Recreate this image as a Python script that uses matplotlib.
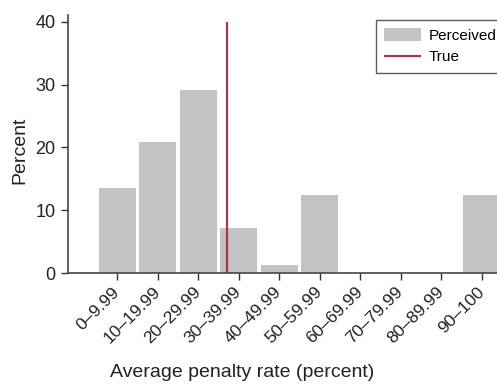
import matplotlib.pyplot as plt

plt.rcParams['font.family'] = ['Liberation Sans', 'DejaVu Sans']

# Data
bins = ["0–9.99", "10–19.99", "20–29.99", "30–39.99", "40–49.99",
        "50–59.99", "60–69.99", "70–79.99", "80–89.99", "90–100"]
bin_centers = [5, 15, 25, 35, 45, 55, 65, 75, 85, 95]
perceived = [13.5, 20.9, 29.2, 7.2, 1.3, 12.4, 0, 0, 0, 12.4]
true_rate = 32.2

fig = plt.figure(figsize=(4.97, 3.9), dpi=100)
ax = fig.add_axes([0.137, 0.30, 0.863, 0.662])

bars = ax.bar(bin_centers, perceived, width=9.1, color="#c3c3c3", label="Perceived", zorder=1)
line = ax.vlines(true_rate, 0, 40, color="#a83848", linewidth=1.6, label="True", zorder=2)

ax.set_xlim(-7.1, 98.8)
ax.set_ylim(0, 41.1)
ax.set_yticks([0, 10, 20, 30, 40])
ax.set_xticks(bin_centers)
ax.set_xticklabels(bins, rotation=45, ha="right", va="center", rotation_mode="anchor", fontsize=12.5)
ax.tick_params(axis="y", labelsize=13, length=5, width=1, pad=4, color="#333333", labelcolor="#222222")
ax.tick_params(axis="x", length=5, width=1, pad=7, color="#333333", labelcolor="#222222")

for s in ["top", "right"]:
    ax.spines[s].set_visible(False)
for s in ["left", "bottom"]:
    ax.spines[s].set_color("#444444")
    ax.spines[s].set_linewidth(1.2)

ax.set_ylabel("Percent", fontsize=14, color="#222222")
ax.yaxis.set_label_coords(-0.093, 0.477)
ax.set_xlabel("Average penalty rate (percent)", fontsize=14, color="#222222")
ax.xaxis.set_label_coords(0.406, -0.353)

leg = ax.legend([bars, line], ["Perceived", "True"],
                loc="upper left", bbox_to_anchor=(0.718, 0.98), fontsize=11,
                frameon=True, fancybox=False, edgecolor="#333333",
                handlelength=2.4, handleheight=0.9, borderpad=0.55,
                borderaxespad=0, handletextpad=0.5, labelspacing=0.45)
leg.get_frame().set_linewidth(1.0)

plt.savefig("out.png", dpi=100)
